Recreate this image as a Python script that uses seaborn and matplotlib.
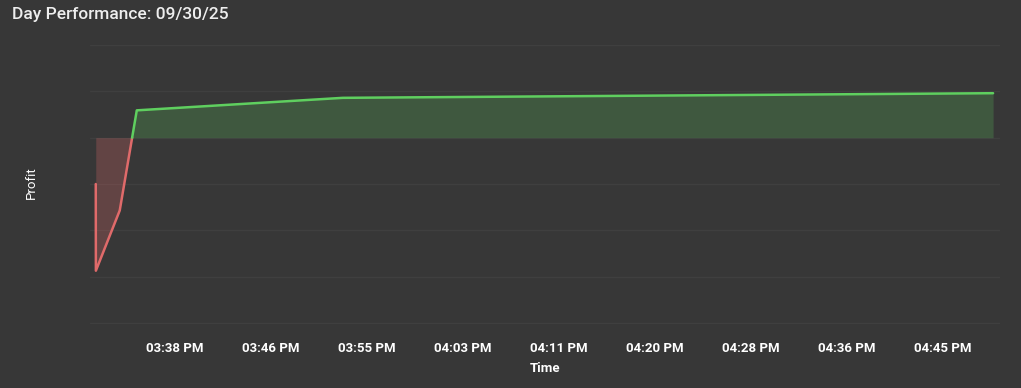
import numpy as np
import pandas as pd
import matplotlib
matplotlib.use("Agg")
import matplotlib.pyplot as plt
import seaborn as sns

# Data (minutes after 3:00 PM, profit)
times = [31.64, 31.65, 33.72, 35.2, 53.08, 109.5]
profit = [-100, -287, -157, 59, 86, 96]

tick_pos = [38.5, 46.83, 55.17, 63.5, 71.83, 80.17, 88.5, 96.83, 105.17]
tick_labels = ["03:38 PM", "03:46 PM", "03:55 PM", "04:03 PM", "04:11 PM",
               "04:20 PM", "04:28 PM", "04:36 PM", "04:45 PM"]
y_grid = [-400, -300, -200, -100, 0, 100, 200]

title = "Day Performance: 09/30/25"

BG = "#373737"
GRID = "#3f3f3f"
GREEN = "#5fcf5f"
RED = "#e06a6a"

sns.set_theme(style="dark")
plt.rcParams['font.family'] = ['Roboto', 'DejaVu Sans']

fig = plt.figure(figsize=(10.21, 3.88), dpi=100, facecolor=BG)
ax = fig.add_axes([90/1021, 1-324/388, 910/1021, (324-45)/388])
ax.set_facecolor(BG)

t = np.array(times, float)
p = np.array(profit, float)

# split line at zero crossing
seg_t, seg_p, seg_c = [[t[0]]], [[p[0]]], [p[0] >= 0]
for i in range(1, len(t)):
    if (p[i-1] < 0) != (p[i] < 0):
        tc = t[i-1] + (0 - p[i-1]) * (t[i] - t[i-1]) / (p[i] - p[i-1])
        seg_t[-1].append(tc); seg_p[-1].append(0.0)
        seg_t.append([tc]); seg_p.append([0.0]); seg_c.append(p[i] >= 0)
    seg_t[-1].append(t[i]); seg_p[-1].append(p[i])

for st, sp, pos in zip(seg_t, seg_p, seg_c):
    col = GREEN if pos else RED
    df = pd.DataFrame({"t": st, "p": sp})
    sns.lineplot(data=df, x="t", y="p", ax=ax, color=col, lw=1.8, sort=False,
                 estimator=None)
    ax.fill_between(st, sp, 0, color=col, alpha=0.22 if pos else 0.26, lw=0)

ax.set_xlim(t[0] - 0.5, t[-1] + 0.6)
ax.set_ylim(y_grid[0] - 2, y_grid[-1])
ax.set_yticks(y_grid)
ax.set_yticklabels([])
ax.tick_params(axis='y', length=0)
ax.grid(axis='y', color=GRID, lw=1.0)
ax.grid(axis='x', visible=False)
ax.set_xticks(tick_pos)
ax.set_xticklabels(tick_labels, color="white", fontsize=9.5, fontweight="bold")
ax.tick_params(axis='x', length=0, pad=13)
for s in ax.spines.values():
    s.set_visible(False)

ax.set_xlabel("Time", color="white", fontsize=9.5, fontweight="bold", labelpad=5)
ax.set_ylabel("")
fig.text(31/1021, 1-183/388, "Profit", rotation=90, color="white", fontsize=9.5,
         ha="center", va="center")
fig.text(12/1021, 1-15/388, title, color="#eeeeee", fontsize=12.5,
         fontweight="medium", ha="left", va="center")

fig.savefig("out.png", dpi=100, facecolor=BG)
